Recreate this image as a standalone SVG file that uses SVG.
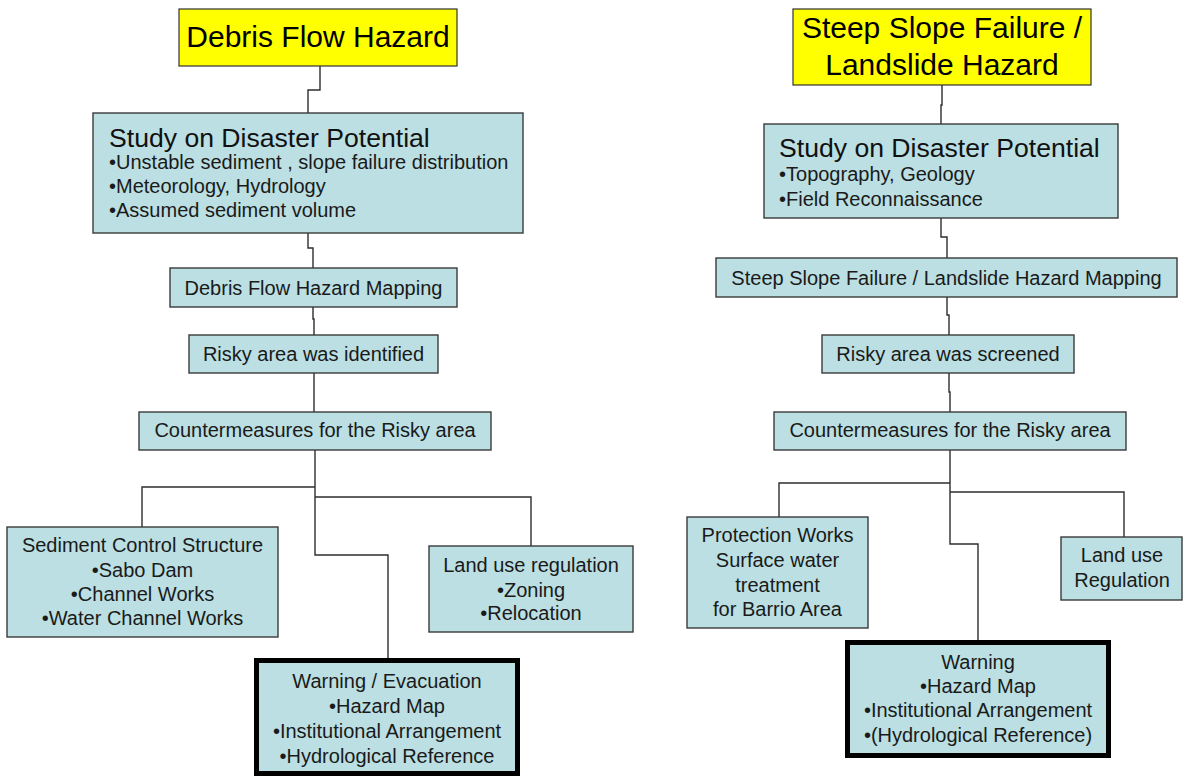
<svg xmlns="http://www.w3.org/2000/svg" width="1184" height="778" viewBox="0 0 1184 778">
  <style>
    .hz { fill: #FFFF00; stroke: #333333; stroke-width: 1.2; }
    .bx { fill: #BBDFE2; stroke: #3a3a3a; stroke-width: 1.4; }
    .bx-thick { fill: #BBDFE2; stroke: #000000; stroke-width: 5; }
    .t { font-family: "Liberation Sans", Arial, sans-serif; fill: #1a1a1a; }
    .big { font-size: 30px; fill: #000; }
    .title { font-size: 26.6px; fill: #111; }
    .n { font-size: 20px; }
    .c { text-anchor: middle; }
    .wire { fill: none; stroke: #2e2e2e; stroke-width: 1.4; }
  </style>
  <rect width="1184" height="778" fill="#ffffff"/>

  <!-- connectors -->
  <g id="connectors" class="wire">
    <!-- debris flow column -->
    <path d="M320,66 V90 H308 V113"/>
    <path d="M308,233 V248 H313 V268"/>
    <path d="M313,307 V319 H314 V335"/>
    <path d="M314,373 V412"/>
    <path d="M315,450 V555 H388 V658"/>
    <path d="M315,487 H142 V527"/>
    <path d="M315,497 H531 V546"/>
    <!-- steep slope column -->
    <path d="M942,85 V105 H941 V124"/>
    <path d="M941,218 V237 H947 V258"/>
    <path d="M947,297 V315 H949 V335"/>
    <path d="M949,373 V392 H950 V412"/>
    <path d="M950,450 V544 H978 V640"/>
    <path d="M950,483 H779 V517"/>
    <path d="M950,492 H1124 V537"/>
  </g>

  <!-- debris flow column -->
  <g id="debris-hazard">
    <rect class="hz" x="179" y="9" width="278" height="57"/>
    <text class="t big c" x="318" y="47">Debris Flow Hazard</text>
  </g>
  <g id="debris-study">
    <rect class="bx" x="93" y="113" width="430" height="120"/>
    <text class="t title" x="109" y="147">Study on Disaster Potential</text>
    <text class="t n" x="109" y="169">•Unstable sediment , slope failure distribution</text>
    <text class="t n" x="109" y="193">•Meteorology, Hydrology</text>
    <text class="t n" x="109" y="217">•Assumed sediment volume</text>
  </g>
  <g id="debris-mapping">
    <rect class="bx" x="170" y="268" width="287" height="39"/>
    <text class="t n c" x="313.5" y="295">Debris Flow Hazard Mapping</text>
  </g>
  <g id="debris-risky">
    <rect class="bx" x="189" y="335" width="249" height="38"/>
    <text class="t n c" x="313.5" y="361">Risky area was identified</text>
  </g>
  <g id="debris-counter">
    <rect class="bx" x="139" y="412" width="352" height="38"/>
    <text class="t n c" x="315" y="437">Countermeasures for the Risky area</text>
  </g>
  <g id="debris-sediment">
    <rect class="bx" x="7" y="527" width="271" height="110"/>
    <text class="t n c" x="142.5" y="552">Sediment Control Structure</text>
    <text class="t n c" x="142.5" y="577">•Sabo Dam</text>
    <text class="t n c" x="142.5" y="601">•Channel Works</text>
    <text class="t n c" x="142.5" y="625">•Water Channel Works</text>
  </g>
  <g id="debris-landuse">
    <rect class="bx" x="429" y="546" width="204" height="86"/>
    <text class="t n c" x="531" y="572">Land use regulation</text>
    <text class="t n c" x="531" y="597">•Zoning</text>
    <text class="t n c" x="531" y="620">•Relocation</text>
  </g>
  <g id="debris-warning">
    <rect class="bx-thick" x="256.5" y="660.5" width="261" height="113"/>
    <text class="t n c" x="387" y="688">Warning / Evacuation</text>
    <text class="t n c" x="387" y="713">•Hazard Map</text>
    <text class="t n c" x="387" y="738">•Institutional Arrangement</text>
    <text class="t n c" x="387" y="763">•Hydrological Reference</text>
  </g>

  <!-- steep slope / landslide column -->
  <g id="slope-hazard">
    <rect class="hz" x="793" y="9" width="298" height="76"/>
    <text class="t big c" x="942" y="38">Steep Slope Failure /</text>
    <text class="t big c" x="942" y="75">Landslide Hazard</text>
  </g>
  <g id="slope-study">
    <rect class="bx" x="764" y="124" width="354" height="94"/>
    <text class="t title" x="779" y="157">Study on Disaster Potential</text>
    <text class="t n" x="779" y="181">•Topography, Geology</text>
    <text class="t n" x="779" y="206">•Field Reconnaissance</text>
  </g>
  <g id="slope-mapping">
    <rect class="bx" x="716" y="258" width="461" height="39"/>
    <text class="t n c" x="946.5" y="285">Steep Slope Failure / Landslide Hazard Mapping</text>
  </g>
  <g id="slope-screened">
    <rect class="bx" x="822" y="335" width="252" height="38"/>
    <text class="t n c" x="948" y="361">Risky area was screened</text>
  </g>
  <g id="slope-counter">
    <rect class="bx" x="774" y="412" width="352" height="38"/>
    <text class="t n c" x="950" y="437">Countermeasures for the Risky area</text>
  </g>
  <g id="slope-protection">
    <rect class="bx" x="687" y="517" width="181" height="111"/>
    <text class="t n c" x="777.5" y="542">Protection Works</text>
    <text class="t n c" x="777.5" y="567">Surface water</text>
    <text class="t n c" x="777.5" y="592">treatment</text>
    <text class="t n c" x="777.5" y="616">for Barrio Area</text>
  </g>
  <g id="slope-landuse">
    <rect class="bx" x="1061" y="537" width="121" height="63"/>
    <text class="t n c" x="1122" y="562">Land use</text>
    <text class="t n c" x="1122" y="587">Regulation</text>
  </g>
  <g id="slope-warning">
    <rect class="bx-thick" x="847.5" y="642.5" width="261" height="113"/>
    <text class="t n c" x="978" y="669">Warning</text>
    <text class="t n c" x="978" y="693">•Hazard Map</text>
    <text class="t n c" x="978" y="717">•Institutional Arrangement</text>
    <text class="t n c" x="978" y="742">•(Hydrological Reference)</text>
  </g>
</svg>
